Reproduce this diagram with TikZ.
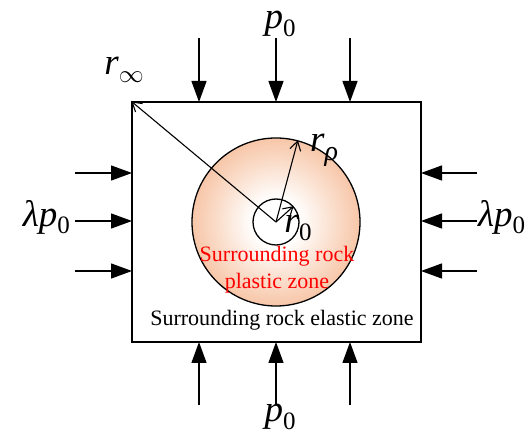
\documentclass[tikz,border=0pt]{standalone}
\usepackage{fontspec}
\setmainfont{Liberation Serif}
\usetikzlibrary{arrows.meta}
\definecolor{peach}{RGB}{247,198,168}
\definecolor{peachmid}{RGB}{251,226,210}
\pgfdeclareradialshading{plastic}{\pgfpoint{0bp}{0bp}}{%
  color(0bp)=(white); color(7bp)=(white); color(16bp)=(peachmid); color(25bp)=(peach); color(50bp)=(peach)}
\newcommand{\sym}[2]{\textit{#1}\raisebox{-0.45ex}{\fontsize{25}{27}\selectfont #2}}
\begin{document}
\begin{tikzpicture}[x=1pt,y=-1pt,
  force/.style={line width=1.3pt,-{Triangle[length=21pt,width=15pt]}},
  radius/.style={line width=1.1pt,-{Straight Barb[length=9pt,width=11pt,line width=1.1pt]}},
  biglabel/.style={font=\fontsize{37}{40}\selectfont, inner sep=0pt},
  zonelabel/.style={font=\fontsize{22}{27}\selectfont, inner sep=0pt, align=center}]
\useasboundingbox (0,0) rectangle (528,438);
% box
\node[draw, line width=1.3pt, minimum width=289pt, minimum height=240pt, inner sep=0pt] (box) at (276.5,222) {};
% plastic zone
\shade[shading=plastic] (276,222) circle (84);
\node[draw, circle, line width=1.3pt, minimum size=168pt, inner sep=0pt] (outer) at (276,222) {};
\node[draw, circle, line width=1.3pt, minimum size=46pt, inner sep=0pt, fill=white] (inner) at (276,222) {};
\coordinate (c) at (276,222);
% radius arrows
\draw[radius] (c) -- (box.north west);
\draw[radius] (c) -- (outer.75);
\draw[radius] (c) -- (inner.42);
% forces
\foreach \x/\n in {199/t1,276/t2,350/t3}{
  \coordinate (\n s) at (\x,38);
  \coordinate (\n e) at (\x,102);
  \draw[force] (\n s) -- (\n e);
}
\foreach \x/\n in {199/b1,276/b2,350/b3}{
  \coordinate (\n s) at (\x,405);
  \coordinate (\n e) at (\x,342);
  \draw[force] (\n s) -- (\n e);
}
\foreach \y/\n in {173/l1,221/l2,271/l3}{
  \coordinate (\n s) at (75,\y);
  \coordinate (\n e) at (132,\y);
  \draw[force] (\n s) -- (\n e);
  \coordinate (\n rs) at (477,\y);
  \coordinate (\n re) at (421,\y);
  \draw[force] (\n rs) -- (\n re);
}
% labels
\node[biglabel] (ptop) at (280,24) {\sym{p}{0}};
\node[biglabel] (pbot) at (280,417) {\sym{p}{0}};
\node[biglabel] (rinf) at (124,70) {\sym{r}{$\infty$}};
\node[biglabel, anchor=east] (lamL) at (70,217) {\textit{λp}\raisebox{-0.45ex}{\fontsize{25}{27}\selectfont 0}};
\node[biglabel, anchor=west] (lamR) at (478,217) {\textit{λp}\raisebox{-0.45ex}{\fontsize{25}{27}\selectfont 0}};
\node[biglabel] (rrho) at (324,150) {\textit{r}\raisebox{-0.55ex}{\fontsize{28}{30}\selectfont\textit{ρ}}};
\node[biglabel] (rzero) at (298,228) {\textit{r}\raisebox{-0.45ex}{\fontsize{25}{27}\selectfont 0}};
\node[zonelabel, text=red] (plastic) at (277,270) {Surrounding rock\\plastic zone};
\node[zonelabel] (elastic) at (282,320) {Surrounding rock elastic zone};
\end{tikzpicture}
\end{document}
